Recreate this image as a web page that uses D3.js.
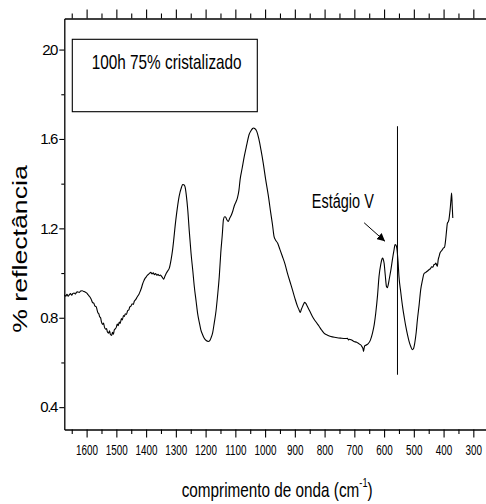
<!DOCTYPE html>
<html>
<head>
<meta charset="utf-8">
<script src="https://cdn.jsdelivr.net/npm/d3@7"></script>
<style>
  body { margin: 0; background: #fff; }
  text { font-family: "Liberation Sans", Arial, sans-serif; fill: #000; }
</style>
</head>
<body>
<svg id="chart" width="486" height="504"></svg>
<script>
// Reflectance spectrum, wavenumber in cm-1 (descending) and % reflectance
const wavenumber = [
  1675, 1670, 1666, 1662, 1658, 1654, 1650, 1646, 1642, 1638, 1634, 1630, 1625, 1620, 1615, 1610,
  1605, 1600, 1595, 1590, 1585, 1580, 1576, 1572, 1568, 1565, 1562, 1559, 1556, 1553, 1550, 1546,
  1543, 1540, 1536, 1533, 1530, 1526, 1523, 1520, 1516, 1513, 1510, 1507, 1504, 1500, 1497, 1494,
  1490, 1487, 1483, 1480, 1476, 1473, 1470, 1466, 1462, 1458, 1455, 1451, 1447, 1443, 1440, 1436,
  1432, 1428, 1424, 1420, 1416, 1412, 1408, 1404, 1400, 1396, 1392, 1388, 1384, 1380, 1376, 1372,
  1368, 1364, 1360, 1356, 1352, 1348, 1344, 1341, 1337, 1333, 1328, 1322, 1316, 1311, 1300, 1289,
  1281, 1277, 1273, 1269, 1265, 1260, 1255, 1249, 1243, 1238, 1232, 1227, 1221, 1216, 1210, 1205,
  1198, 1191, 1186, 1182, 1176, 1171, 1165, 1160, 1154, 1149, 1144, 1140, 1136, 1133, 1129, 1124,
  1119, 1113, 1108, 1104, 1098, 1093, 1088, 1084, 1077, 1070, 1062, 1054, 1047, 1042, 1039, 1035,
  1028, 1021, 1014, 1006, 998, 989, 981, 975, 970, 965, 958, 950, 942, 933, 925, 916,
  908, 900, 891, 886, 882, 878, 874, 870, 867, 862, 858, 850, 841, 830, 818, 810,
  802, 790, 779, 762, 746, 730, 723, 720, 717, 709, 701, 692, 684, 678, 675, 671,
  669, 667, 665, 661, 657, 654, 646, 639, 633, 628, 622, 617, 611, 607, 605, 602,
  600, 596, 592, 589, 586, 583, 577, 572, 567, 563, 560, 557, 553, 550, 544, 538,
  532, 527, 521, 516, 510, 505, 501, 497, 492, 488, 482, 477, 471, 466, 460, 455,
  449, 444, 440, 436, 432, 428, 426, 423, 421, 418, 415, 412, 408, 404, 401, 397,
  393, 390, 387, 384, 382, 380, 378, 375, 373, 371, 369
];
const reflectance = [
  0.903, 0.897, 0.905, 0.896, 0.903, 0.908, 0.901, 0.909, 0.911, 0.906, 0.914, 0.916, 0.913, 0.920, 0.921, 0.918,
  0.915, 0.911, 0.903, 0.895, 0.884, 0.868, 0.865, 0.852, 0.850, 0.836, 0.822, 0.818, 0.804, 0.800, 0.781, 0.770,
  0.776, 0.758, 0.749, 0.752, 0.736, 0.731, 0.742, 0.725, 0.721, 0.735, 0.726, 0.745, 0.750, 0.758, 0.772, 0.765,
  0.781, 0.775, 0.797, 0.790, 0.810, 0.806, 0.818, 0.815, 0.832, 0.835, 0.848, 0.852, 0.862, 0.860, 0.873, 0.880,
  0.888, 0.897, 0.905, 0.918, 0.932, 0.950, 0.964, 0.975, 0.982, 0.990, 0.994, 1.000, 1.003, 0.996, 1.001, 0.993,
  0.998, 0.990, 0.994, 0.988, 0.991, 0.985, 0.978, 0.972, 0.985, 0.997, 1.008, 1.022, 1.060, 1.104, 1.239, 1.343,
  1.384, 1.396, 1.395, 1.386, 1.350, 1.283, 1.190, 1.090, 1.010, 0.940, 0.875, 0.821, 0.778, 0.746, 0.724, 0.709,
  0.698, 0.694, 0.698, 0.709, 0.735, 0.776, 0.830, 0.895, 0.985, 1.090, 1.170, 1.239, 1.252, 1.251, 1.240, 1.231,
  1.245, 1.261, 1.280, 1.299, 1.318, 1.336, 1.370, 1.418, 1.470, 1.522, 1.572, 1.619, 1.638, 1.647, 1.649, 1.647,
  1.634, 1.600, 1.552, 1.490, 1.418, 1.345, 1.269, 1.215, 1.164, 1.148, 1.134, 1.105, 1.075, 1.040, 1.000, 0.960,
  0.925, 0.888, 0.851, 0.836, 0.824, 0.838, 0.851, 0.863, 0.869, 0.862, 0.851, 0.830, 0.806, 0.783, 0.761, 0.745,
  0.731, 0.722, 0.716, 0.712, 0.709, 0.707, 0.708, 0.701, 0.704, 0.700, 0.694, 0.690, 0.683, 0.678, 0.672, 0.662,
  0.649, 0.665, 0.675, 0.677, 0.680, 0.683, 0.700, 0.731, 0.770, 0.821, 0.900, 0.985, 1.040, 1.063, 1.067, 1.058,
  1.045, 0.990, 0.940, 0.935, 0.948, 0.970, 1.015, 1.060, 1.100, 1.127, 1.125, 1.110, 1.050, 0.985, 0.915, 0.851,
  0.800, 0.761, 0.722, 0.694, 0.670, 0.657, 0.662, 0.686, 0.735, 0.791, 0.860, 0.925, 0.968, 0.997, 1.003, 1.008,
  1.015, 1.020, 1.028, 1.026, 1.038, 1.040, 1.045, 1.035, 1.030, 1.060, 1.075, 1.090, 1.098, 1.105, 1.112, 1.115,
  1.149, 1.190, 1.224, 1.230, 1.239, 1.260, 1.284, 1.330, 1.358, 1.300, 1.246
];

const xTicks = [1600, 1500, 1400, 1300, 1200, 1100, 1000, 900, 800, 700, 600, 500, 400, 300];
const xTickLabels = ["1600", "1500", "1400", "1300", "1200", "1100", "1000", "900", "800", "700", "600", "500", "400", "300"];
const xMinorTicks = [1650, 1550, 1450, 1350, 1250, 1150, 1050, 950, 850, 750, 650, 550, 450, 350, 250];
const yTicks = [0.4, 0.8, 1.2, 1.6, 2.0];
const yTickLabels = ["0.4", "0.8", "1.2", "1.6", "2.0"];
const yMinorTicks = [0.6, 1.0, 1.4, 1.8];

const legendLabel = "100h 75% cristalizado";
const stageLabel = "Estágio V";
const stageLabelAt = [843, 1.291];
const arrowFrom = [667, 1.225];
const arrowTo = [597, 1.142];
const markerWavenumber = 555;
const markerSpan = [0.545, 1.657];

const svg = d3.select("#chart");

// Plot frame extends past the right edge of the page
const x = d3.scaleLinear().domain([1675, 250]).range([64.3, 488.2]);
const y = d3.scaleLinear().domain([0.3, 2.139]).range([429.5, 18.5]);

const axisStroke = 1.3;

function styleAxis(g) {
  g.selectAll("path.domain").attr("stroke", "#000").attr("stroke-width", axisStroke);
  g.selectAll(".tick line").attr("stroke", "#000").attr("stroke-width", 1.1);
}

// bottom axis, labels drawn narrow
const bottomMajor = svg.append("g").attr("transform", `translate(0,${y(0.3)})`)
  .call(d3.axisBottom(x).tickValues(xTicks).tickSize(8).tickSizeOuter(0).tickPadding(7)
    .tickFormat((d, i) => xTickLabels[i]));
styleAxis(bottomMajor);
bottomMajor.selectAll(".tick text")
  .attr("font-size", 15).attr("font-family", "Liberation Sans, Arial, sans-serif")
  .attr("transform", "scale(0.66,1)");
const bottomMinor = svg.append("g").attr("transform", `translate(0,${y(0.3)})`)
  .call(d3.axisBottom(x).tickValues(xMinorTicks).tickSize(4.5).tickSizeOuter(0).tickFormat(""));
bottomMinor.select("path.domain").remove();
styleAxis(bottomMinor);

// top axis (ticks only)
const topMajor = svg.append("g").attr("transform", `translate(0,${y(2.139)})`)
  .call(d3.axisTop(x).tickValues(xTicks).tickSize(9).tickSizeOuter(0).tickFormat(""));
styleAxis(topMajor);
const topMinor = svg.append("g").attr("transform", `translate(0,${y(2.139)})`)
  .call(d3.axisTop(x).tickValues(xMinorTicks).tickSize(5).tickSizeOuter(0).tickFormat(""));
topMinor.select("path.domain").remove();
styleAxis(topMinor);

// left axis
const leftMajor = svg.append("g").attr("transform", `translate(${x(1675)},0)`)
  .call(d3.axisLeft(y).tickValues(yTicks).tickSize(5).tickSizeOuter(0).tickPadding(1)
    .tickFormat((d, i) => yTickLabels[i]));
styleAxis(leftMajor);
leftMajor.selectAll(".tick text")
  .attr("font-size", 15).attr("font-family", "Liberation Sans, Arial, sans-serif")
  .attr("textLength", (d, i) => yTickLabels[i] === "2.0" ? 16 : 18)
  .attr("lengthAdjust", "spacing");
const leftMinor = svg.append("g").attr("transform", `translate(${x(1675)},0)`)
  .call(d3.axisLeft(y).tickValues(yMinorTicks).tickSize(3).tickSizeOuter(0).tickFormat(""));
leftMinor.select("path.domain").remove();
styleAxis(leftMinor);

// spectrum
const spectrum = wavenumber.map((w, i) => [w, reflectance[i]]);
svg.append("path")
  .datum(spectrum)
  .attr("fill", "none")
  .attr("stroke", "#000")
  .attr("stroke-width", 1.1)
  .attr("d", d3.line().x(d => x(d[0])).y(d => y(d[1])).curve(d3.curveMonotoneX));

// vertical marker line
svg.append("line")
  .attr("x1", x(markerWavenumber)).attr("x2", x(markerWavenumber))
  .attr("y1", y(markerSpan[0])).attr("y2", y(markerSpan[1]))
  .attr("stroke", "#000").attr("stroke-width", 1);

// legend box
svg.append("rect")
  .attr("x", 72.3).attr("y", 39.3).attr("width", 185).attr("height", 72.4)
  .attr("fill", "none").attr("stroke", "#000").attr("stroke-width", 1.1);
svg.append("text")
  .attr("transform", "translate(91.7,68.5) scale(0.73,1)")
  .attr("font-size", 21)
  .text(legendLabel);

// stage annotation with arrow
svg.append("text")
  .attr("transform", `translate(${x(stageLabelAt[0])},${y(stageLabelAt[1])}) scale(0.69,1)`)
  .attr("font-size", 21)
  .text(stageLabel);

svg.append("defs").append("marker")
  .attr("id", "arrowhead").attr("viewBox", "0 0 10 10")
  .attr("refX", 10).attr("refY", 5)
  .attr("markerWidth", 8).attr("markerHeight", 8)
  .attr("markerUnits", "userSpaceOnUse")
  .attr("orient", "auto")
  .append("path").attr("d", "M0,0 L10,5 L0,10 Z").attr("fill", "#000");
svg.append("line")
  .attr("x1", x(arrowFrom[0])).attr("y1", y(arrowFrom[1]))
  .attr("x2", x(arrowTo[0])).attr("y2", y(arrowTo[1]))
  .attr("stroke", "#000").attr("stroke-width", 1)
  .attr("marker-end", "url(#arrowhead)");

// x axis title with superscript unit exponent
const xTitle = svg.append("text")
  .attr("transform", "translate(181.7,497) scale(0.765,1)")
  .attr("font-size", 20);
xTitle.append("tspan").text("comprimento de onda (cm");
xTitle.append("tspan").attr("font-size", 12).attr("dy", -10).text("-1");
xTitle.append("tspan").attr("dy", 10).text(")");

// y axis title, drawn long along the axis
svg.append("text")
  .attr("transform", "translate(26.5,249) rotate(-90) scale(1.27,1)")
  .attr("text-anchor", "middle")
  .attr("font-size", 21)
  .text("% reflectância");
</script>
</body>
</html>
